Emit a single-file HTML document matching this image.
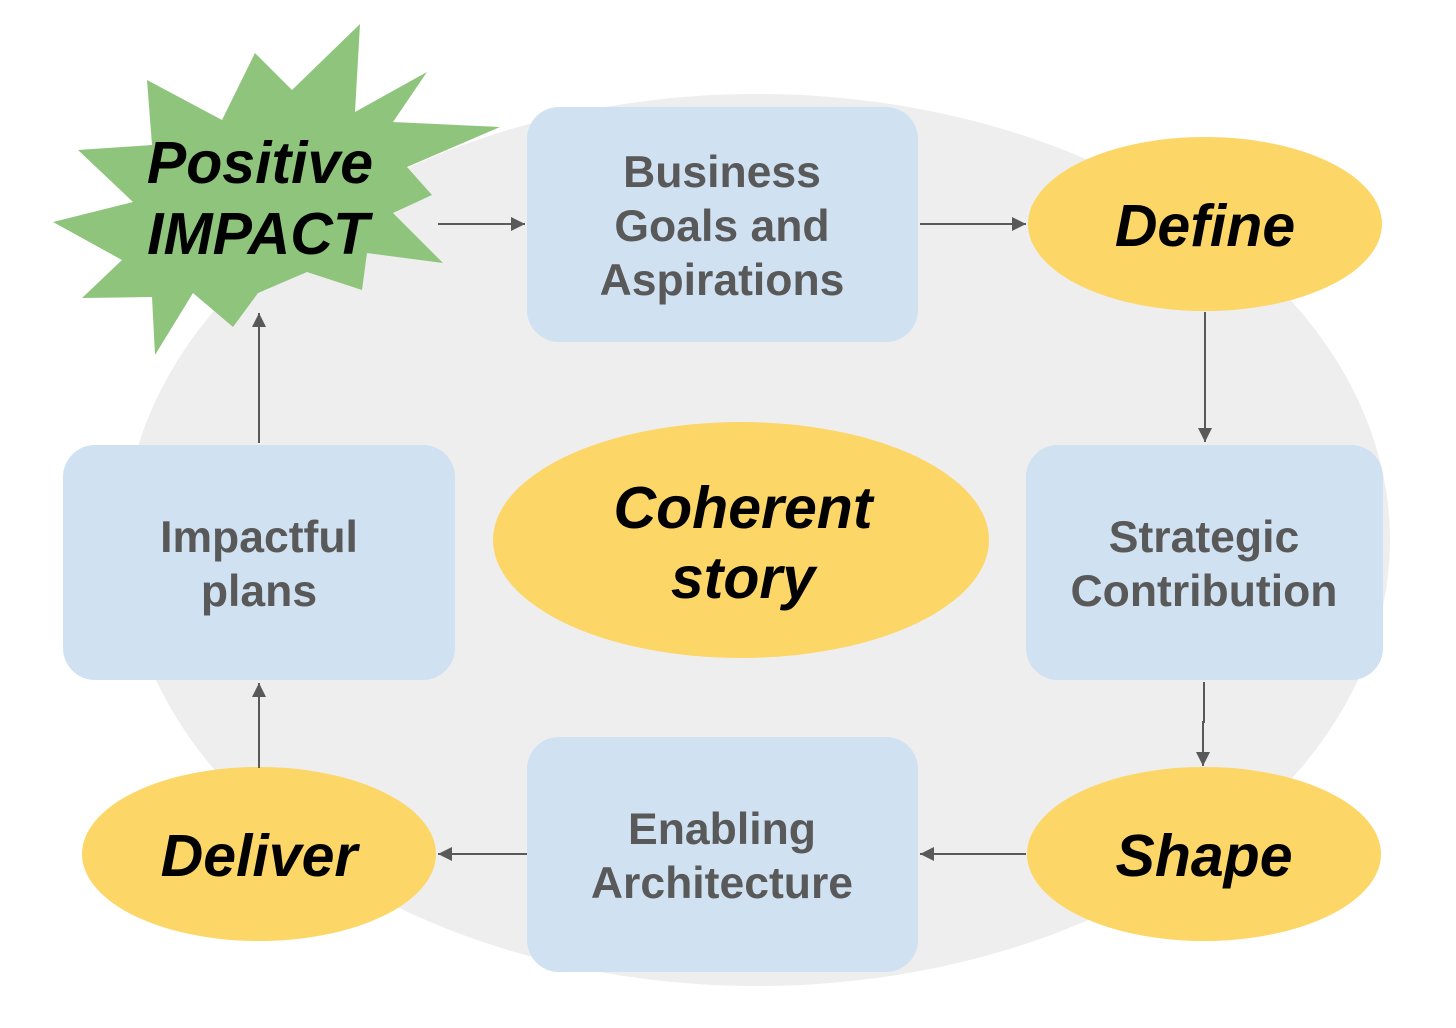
<!DOCTYPE html>
<html><head><meta charset="utf-8"><style>
html,body{margin:0;padding:0;background:#fff;}
svg{display:block;}
.g{font-family:"Liberation Sans",sans-serif;font-weight:bold;fill:#595959;font-size:44.5px;text-anchor:middle;}
.b{font-family:"Liberation Sans",sans-serif;font-weight:bold;font-style:italic;fill:#000;font-size:59px;text-anchor:middle;}
</style></head><body>
<svg width="1456" height="1028" viewBox="0 0 1456 1028" xmlns="http://www.w3.org/2000/svg">
<defs>
<marker id="m" viewBox="0 0 10 10" markerWidth="20" markerHeight="14" refX="10" refY="5" orient="auto" markerUnits="userSpaceOnUse"><path d="M0,0 L10,5 L0,10 z" fill="#595959"/></marker></defs>
<ellipse cx="757" cy="540" rx="633" ry="446" fill="#eeeeee"/>
<polygon fill="#8fc47c" points="360,24 355,112 427,72 393,122 500,127 407,167 432,195 393,213 443,263 367,253 362,290 307,272 258,293 233,327 193,293 155,355 152,297 82,298 122,260 53,222 133,202 78,150 152,145 147,80 222,120 255,53 292,90"/>
<text class="b" x="260" y="183">Positive</text>
<text class="b" x="258" y="254">IMPACT</text>
<rect x="527" y="107" width="391" height="235" rx="32" fill="#d0e1f2"/>
<text class="g" x="722" y="187">Business</text>
<text class="g" x="722" y="241">Goals and</text>
<text class="g" x="722" y="295">Aspirations</text>
<rect x="1026" y="445" width="357" height="235" rx="32" fill="#d0e1f2"/>
<text class="g" x="1204" y="552">Strategic</text>
<text class="g" x="1204" y="606">Contribution</text>
<rect x="63" y="445" width="392" height="235" rx="32" fill="#d0e1f2"/>
<text class="g" x="259" y="552">Impactful</text>
<text class="g" x="259" y="606">plans</text>
<rect x="527" y="737" width="391" height="235" rx="32" fill="#d0e1f2"/>
<text class="g" x="722" y="844">Enabling</text>
<text class="g" x="722" y="898">Architecture</text>
<ellipse cx="1205" cy="224" rx="177" ry="87" fill="#fdd668"/>
<text class="b" x="1205" y="246">Define</text>
<ellipse cx="1204" cy="854" rx="177" ry="87" fill="#fdd668"/>
<text class="b" x="1204" y="876">Shape</text>
<ellipse cx="259" cy="854" rx="177" ry="87" fill="#fdd668"/>
<text class="b" x="259" y="876">Deliver</text>
<ellipse cx="741" cy="540" rx="248" ry="118" fill="#fdd668"/>
<text class="b" x="743" y="528">Coherent</text>
<text class="b" x="743" y="598">story</text>
<g stroke="#595959" stroke-width="2" fill="none">
<line x1="438" y1="224" x2="525" y2="224" marker-end="url(#m)"/>
<line x1="920" y1="224" x2="1026" y2="224" marker-end="url(#m)"/>
<line x1="1205" y1="312" x2="1205" y2="442" marker-end="url(#m)"/>
<polyline points="1204,682 1204,722 1203,722 1203,766" marker-end="url(#m)"/>
<line x1="1026" y1="854" x2="920" y2="854" marker-end="url(#m)"/>
<line x1="527" y1="854" x2="438" y2="854" marker-end="url(#m)"/>
<line x1="259" y1="768" x2="259" y2="683" marker-end="url(#m)"/>
<line x1="259" y1="443" x2="259" y2="313" marker-end="url(#m)"/>
</g>
</svg>
</body></html>
